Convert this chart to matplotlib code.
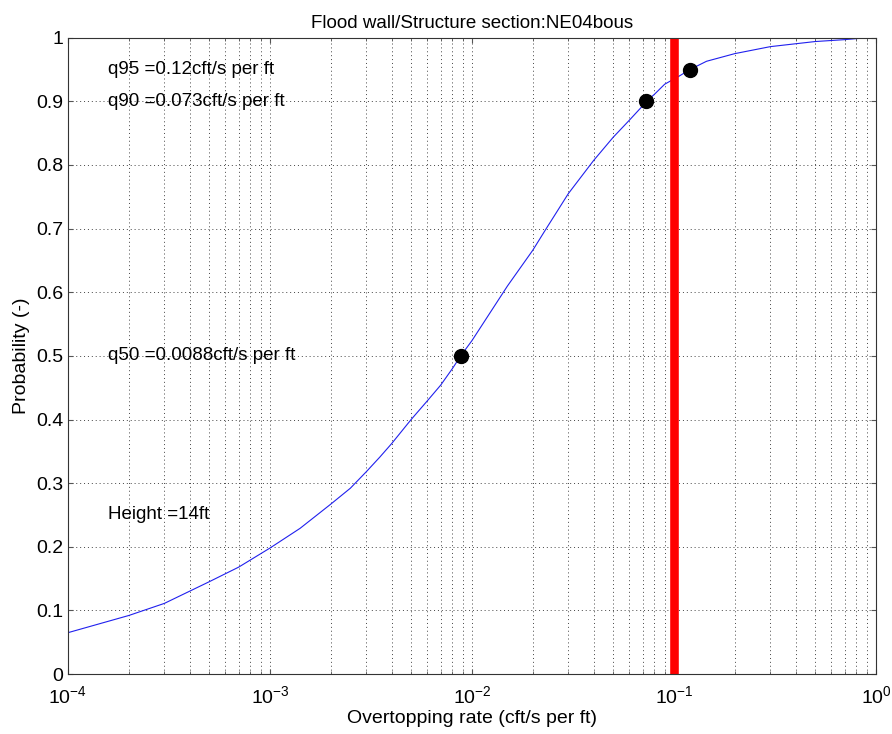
#!/usr/bin/env python3
"""Overtopping rate exceedance curve for a flood wall section."""

import matplotlib
matplotlib.use("Agg")
import matplotlib.pyplot as plt
from matplotlib.ticker import LogLocator, NullFormatter

plt.rcParams["font.family"] = ["Liberation Sans", "DejaVu Sans"]

# curve (overtopping rate, probability)
rate = [1e-4, 2e-4, 3e-4, 5e-4, 7e-4, 1e-3, 1.41e-3, 2e-3, 2.5e-3, 3e-3,
        3.5e-3, 4e-3, 5e-3, 6e-3, 7e-3, 8e-3, 8.8e-3, 1e-2, 1.5e-2, 2e-2,
        2.3e-2, 3e-2, 4e-2, 5e-2, 6e-2, 7e-2, 7.3e-2, 8e-2, 9e-2, 0.104,
        0.12, 0.145, 0.2, 0.3, 0.5, 0.7, 0.9]
prob = [0.065, 0.092, 0.111, 0.145, 0.168, 0.198, 0.229, 0.267, 0.292, 0.318,
        0.341, 0.362, 0.40, 0.429, 0.454, 0.48, 0.50, 0.524, 0.61, 0.666,
        0.697, 0.755, 0.807, 0.8435, 0.87, 0.893, 0.90, 0.911, 0.927, 0.938,
        0.95, 0.963, 0.975, 0.986, 0.994, 0.997, 1.0]

q_rate = [0.0088, 0.073, 0.12]
q_prob = [0.5, 0.9, 0.95]
limit_rate = 0.1

labels = ["q95 =0.12cft/s per ft", "q90 =0.073cft/s per ft",
          "q50 =0.0088cft/s per ft", "Height =14ft"]
label_y = [0.95, 0.90, 0.50, 0.25]

fig = plt.figure(figsize=(8.92, 7.34), dpi=100)
ax = fig.add_axes([0.0762, 0.0817, 0.9058, 0.8669])

ax.plot(rate, prob, color="#2020ee", lw=0.8)
ax.axvline(limit_rate, color="#ff0000", lw=6.2)
ax.plot(q_rate, q_prob, "o", color="black", ms=10)

for txt, yy in zip(labels, label_y):
    ax.text(1.58e-4, yy, txt, fontsize=13.5, va="center", ha="left")

ax.set_xscale("log")
ax.set_xlim(1e-4, 1)
ax.set_ylim(0, 1)
ax.set_yticks([i / 10 for i in range(11)])
ax.set_yticklabels(["0"] + [f"{i / 10:.1f}" for i in range(1, 10)] + ["1"])
decades = [1e-4, 1e-3, 1e-2, 1e-1, 1]
ax.set_xticks(decades)
ax.set_xticklabels([r"$\mathregular{10^{%d}}$" % e for e in range(-4, 1)])
ax.xaxis.set_minor_locator(LogLocator(base=10, subs=range(2, 10), numticks=20))
ax.xaxis.set_minor_formatter(NullFormatter())

grid_kw = dict(color="#444444", lw=0.7, dashes=(1, 3))
ax.grid(True, which="major", **grid_kw)
ax.grid(True, which="minor", axis="x", **grid_kw)
ax.tick_params(which="both", direction="in", top=True, right=True,
               labelsize=14, color="#555555")
ax.tick_params(axis="x", which="major", pad=8)
for s in ax.spines.values():
    s.set_color("#333333")

ax.set_title("Flood wall/Structure section:NE04bous", fontsize=13.5, pad=7)
ax.set_xlabel("Overtopping rate (cft/s per ft)", fontsize=14, labelpad=2)
ax.set_ylabel("Probability (-)", fontsize=14, labelpad=4)

fig.savefig("out.png", dpi=100)
